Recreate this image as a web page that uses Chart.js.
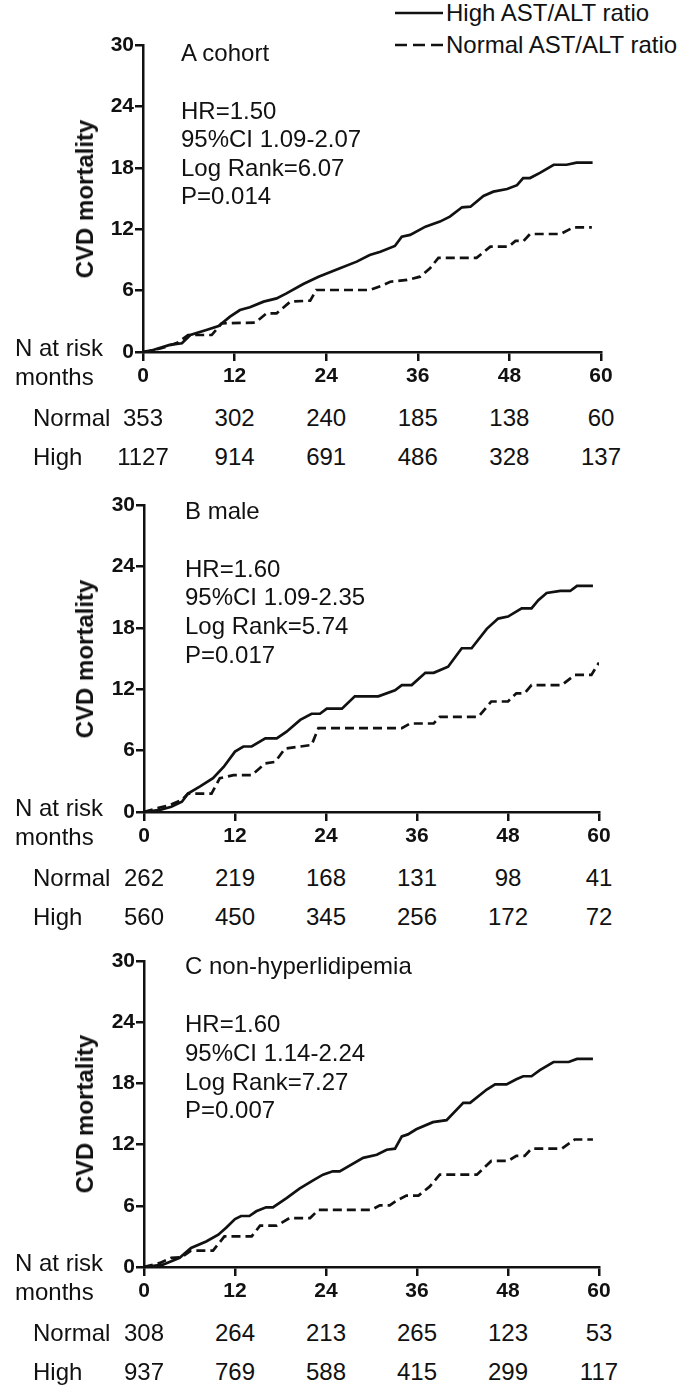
<!DOCTYPE html>
<html><head><meta charset="utf-8">
<script src="https://cdn.jsdelivr.net/npm/chart.js@4.4.1/dist/chart.umd.min.js"></script>
<style>
html,body{margin:0;padding:0;background:#fff;}
body{width:685px;height:1389px;position:relative;overflow:hidden;font-family:"Liberation Sans",Arial,sans-serif;color:#111;}
.t{position:absolute;font-size:24px;line-height:24px;white-space:nowrap;}
.b{font-weight:bold;}
canvas{position:absolute;left:0;}
</style></head><body>
<svg style="position:absolute;left:0;top:0" width="685" height="60">
  <line x1="395" y1="13" x2="443" y2="13" stroke="#111" stroke-width="2.5"/>
  <line x1="395" y1="45" x2="443" y2="45" stroke="#111" stroke-width="2.5" stroke-dasharray="12,6"/>
</svg>
<div class="t" style="left:446px;top:1px">High AST/ALT ratio</div>
<div class="t" style="left:446px;top:33px">Normal AST/ALT ratio</div>
<script>
// ---- tick labels ----
const monthTicks = [0, 12, 24, 36, 48, 60];
const mortalityTicks = [0, 6, 12, 18, 24, 30];
const seriesNames = ["High AST/ALT ratio", "Normal AST/ALT ratio"];
const riskRowNames = ["Normal", "High"];

// ---- Panel A: cohort ----
const A_title = "A cohort";
const A_stats = ["HR=1.50", "95%CI 1.09-2.07", "Log Rank=6.07", "P=0.014"];
const A_high_t = [0,0.9,3.5,5.1,6.2,8.3,9.9,11.4,12.7,14,15.8,17.5,18.8,21,23,25.8,28,29.7,31.1,33,33.9,35,37,38.9,40.2,41.8,42.9,44.6,45.9,47.7,49,49.8,50.7,52,53.8,55.5,56.8,58.9];
const A_high_v = [0,0.1,0.7,0.85,1.66,2.15,2.54,3.45,4.1,4.37,4.92,5.24,5.73,6.65,7.36,8.18,8.83,9.48,9.8,10.36,11.27,11.44,12.25,12.74,13.23,14.14,14.2,15.25,15.67,15.93,16.3,17.0,17.0,17.5,18.3,18.3,18.5,18.5];
const A_norm_t = [0,2.4,3.3,4.5,5.9,9.0,10.3,14.7,16.2,17.5,19.3,21.9,22.7,29.75,31.5,32.4,34.6,36.3,37.6,38.7,43.7,45.5,47.9,48.8,49.85,50.7,54.7,56.4,58.8];
const A_norm_v = [0,0.36,0.59,0.9,1.66,1.66,2.8,2.87,3.78,3.78,4.92,5.02,6.06,6.06,6.55,6.87,7.04,7.36,8.18,9.2,9.2,10.3,10.3,10.85,10.85,11.53,11.53,12.18,12.18];
const A_risk_normal = [353, 302, 240, 185, 138, 60];
const A_risk_high = [1127, 914, 691, 486, 328, 137];

// ---- Panel B: male ----
const B_title = "B male";
const B_stats = ["HR=1.60", "95%CI 1.09-2.35", "Log Rank=5.74", "P=0.017"];
const B_high_t = [0,2.1,3.6,5.0,5.8,7.4,9.1,10.5,12.0,13.1,14.2,16.0,17.5,18.8,20.6,22.1,23.2,24.1,26.1,27.8,30.9,33.1,34.0,35.3,37.1,38.2,40.1,41.9,43.2,45.2,46.7,48.0,49.8,51.1,52.0,53.1,54.9,56.2,57.1,59.2];
const B_high_v = [0,0.2,0.52,1.0,1.8,2.5,3.3,4.4,5.9,6.4,6.4,7.2,7.2,7.85,9.0,9.6,9.6,10.1,10.1,11.3,11.3,11.9,12.4,12.4,13.6,13.6,14.2,16.0,16.0,17.9,18.9,19.1,19.9,19.9,20.7,21.4,21.6,21.6,22.1,22.1];
const B_norm_t = [0,1.7,3.4,5.0,5.8,8.9,10.0,11.8,14.2,16.0,17.3,18.6,22.1,23.0,34.0,35.1,38.2,39.0,44.1,45.8,48.0,49.1,50.2,51.1,55.1,56.8,59.0,60];
const B_norm_v = [0,0.36,0.68,1.17,1.8,1.8,3.3,3.6,3.6,4.75,4.9,6.2,6.55,8.2,8.2,8.65,8.65,9.3,9.3,10.8,10.8,11.6,11.6,12.4,12.4,13.4,13.4,14.6];
const B_risk_normal = [262, 219, 168, 131, 98, 41];
const B_risk_high = [560, 450, 345, 256, 172, 72];

// ---- Panel C: non-hyperlidipemia ----
const C_title = "C non-hyperlidipemia";
const C_stats = ["HR=1.60", "95%CI 1.14-2.24", "Log Rank=7.27", "P=0.007"];
const C_high_t = [0,2.5,4.7,6.2,8.2,9.8,10.9,12.0,12.8,13.9,14.8,16.1,17.0,18.8,20.5,22.3,23.6,24.9,25.8,28.9,30.7,32.0,33.1,34.0,34.8,35.9,38.1,39.9,42.1,43.0,45.2,46.3,47.8,49.1,50.0,51.1,52.2,54.0,56.0,57.1,59.2];
const C_high_v = [0,0.23,0.9,1.86,2.5,3.17,3.9,4.7,5.0,5.0,5.46,5.85,5.85,6.76,7.68,8.5,9.05,9.38,9.38,10.7,11.0,11.5,11.6,12.8,13.0,13.5,14.2,14.4,16.1,16.1,17.4,17.9,17.9,18.4,18.7,18.7,19.3,20.1,20.1,20.4,20.4];
const C_norm_t = [0,2.1,3.6,4.9,6.2,9.1,10.6,14.2,15.3,17.5,19.2,21.9,23.0,30.0,31.1,32.4,33.3,34.6,36.2,37.7,39.0,43.9,45.8,48.0,49.1,50.2,51.1,55.1,56.8,59.2];
const C_norm_v = [0,0.4,0.9,0.95,1.6,1.6,3.0,3.0,4.05,4.05,4.8,4.8,5.6,5.6,6.05,6.05,6.5,7.0,7.0,7.9,9.05,9.05,10.4,10.4,10.9,10.9,11.6,11.6,12.5,12.5];
const C_risk_normal = [308, 264, 213, 265, 123, 53];
const C_risk_high = [937, 769, 588, 415, 299, 117];

const INK = '#111';
const TICK_FONT = {size: 21, weight: 'bold'};

function addText(str, left, cy, cls, extra){
  const d = document.createElement('div');
  d.className = 't' + (cls ? ' ' + cls : '');
  d.textContent = str;
  d.style.left = left + 'px';
  d.style.top = (cy - 12) + 'px';
  if (extra) Object.assign(d.style, extra);
  document.body.appendChild(d);
  return d;
}

function makePanel(p){
  const cv = document.createElement('canvas');
  cv.width = 685; cv.height = p.canvasH;
  cv.style.width = '685px'; cv.style.height = p.canvasH + 'px';
  cv.style.top = p.canvasTop + 'px';
  document.body.appendChild(cv);
  const pts = (t, v) => t.map((x, i) => ({x: x, y: v[i]}));
  const chart = new Chart(cv, {
    type: 'line',
    data: {datasets: [
      {label: seriesNames[0], data: pts(p.highT, p.highV), borderColor: INK, borderWidth: 2.7, pointRadius: 0, tension: 0, fill: false},
      {label: seriesNames[1], data: pts(p.normT, p.normV), borderColor: INK, borderWidth: 2.7, borderDash: [9, 5], pointRadius: 0, tension: 0, fill: false}
    ]},
    options: {
      responsive: false, animation: false, events: [],
      layout: {padding: {top: p.plotTop - p.canvasTop, right: 685 - p.right, left: 0, bottom: 0}},
      plugins: {legend: {display: false}, tooltip: {enabled: false}},
      scales: {
        x: {
          type: 'linear', min: 0, max: 60,
          grid: {drawOnChartArea: false, drawTicks: true, tickLength: 9, color: INK, lineWidth: 2.5},
          border: {display: true, color: INK, width: 2.5},
          afterBuildTicks: s => { s.ticks = monthTicks.map(v => ({value: v})); },
          ticks: {color: INK, font: TICK_FONT, padding: 3, maxRotation: 0, autoSkip: false},
          afterFit: s => { s.height = p.canvasTop + p.canvasH - p.plotBottom; }
        },
        y: {
          type: 'linear', min: 0, max: 30,
          grid: {drawOnChartArea: false, drawTicks: true, tickLength: 8, color: INK, lineWidth: 2.5},
          border: {display: true, color: INK, width: 2.5},
          afterBuildTicks: s => { s.ticks = mortalityTicks.map(v => ({value: v})); },
          ticks: {color: INK, font: TICK_FONT, padding: 1, autoSkip: false},
          afterFit: s => { s.width = p.left; }
        }
      }
    }
  });
  addText(p.title, p.textLeft, p.titleY);
  p.stats.forEach((s, i) => addText(s, p.textLeft, p.statY + i * p.statGap));
  const yc = (chart.scales.y.getPixelForValue(0) + chart.scales.y.getPixelForValue(30)) / 2 + p.canvasTop;
  addText('CVD mortality', 85, yc, 'b', {transform: 'translate(-50%,0) rotate(-90deg)', transformOrigin: '50% 50%'});
  const base = chart.scales.y.getPixelForValue(0) + p.canvasTop;
  addText('N at risk', 15, base - 4);
  addText('months', 15, base + 25);
  addText(riskRowNames[0], 33, base + 66);
  addText(riskRowNames[1], 33, base + 105);
  monthTicks.forEach((m, i) => {
    const x = chart.scales.x.getPixelForValue(m);
    addText(String(p.riskNormal[i]), x, base + 66, '', {transform: 'translateX(-50%)'});
    addText(String(p.riskHigh[i]), x, base + 105, '', {transform: 'translateX(-50%)'});
  });
  return chart;
}

makePanel({canvasTop: 30, canvasH: 365, plotTop: 45, plotBottom: 352, left: 143, right: 601,
  highT: A_high_t, highV: A_high_v, normT: A_norm_t, normV: A_norm_v,
  title: A_title, stats: A_stats, textLeft: 181, titleY: 53, statY: 111, statGap: 28.4,
  riskNormal: A_risk_normal, riskHigh: A_risk_high});
makePanel({canvasTop: 490, canvasH: 365, plotTop: 505, plotBottom: 812, left: 144, right: 599,
  highT: B_high_t, highV: B_high_v, normT: B_norm_t, normV: B_norm_v,
  title: B_title, stats: B_stats, textLeft: 185, titleY: 510.5, statY: 568.5, statGap: 28.8,
  riskNormal: B_risk_normal, riskHigh: B_risk_high});
makePanel({canvasTop: 946, canvasH: 365, plotTop: 961, plotBottom: 1267, left: 144, right: 599,
  highT: C_high_t, highV: C_high_v, normT: C_norm_t, normV: C_norm_v,
  title: C_title, stats: C_stats, textLeft: 185, titleY: 966, statY: 1024, statGap: 28.8,
  riskNormal: C_risk_normal, riskHigh: C_risk_high});
</script>
</body></html>
